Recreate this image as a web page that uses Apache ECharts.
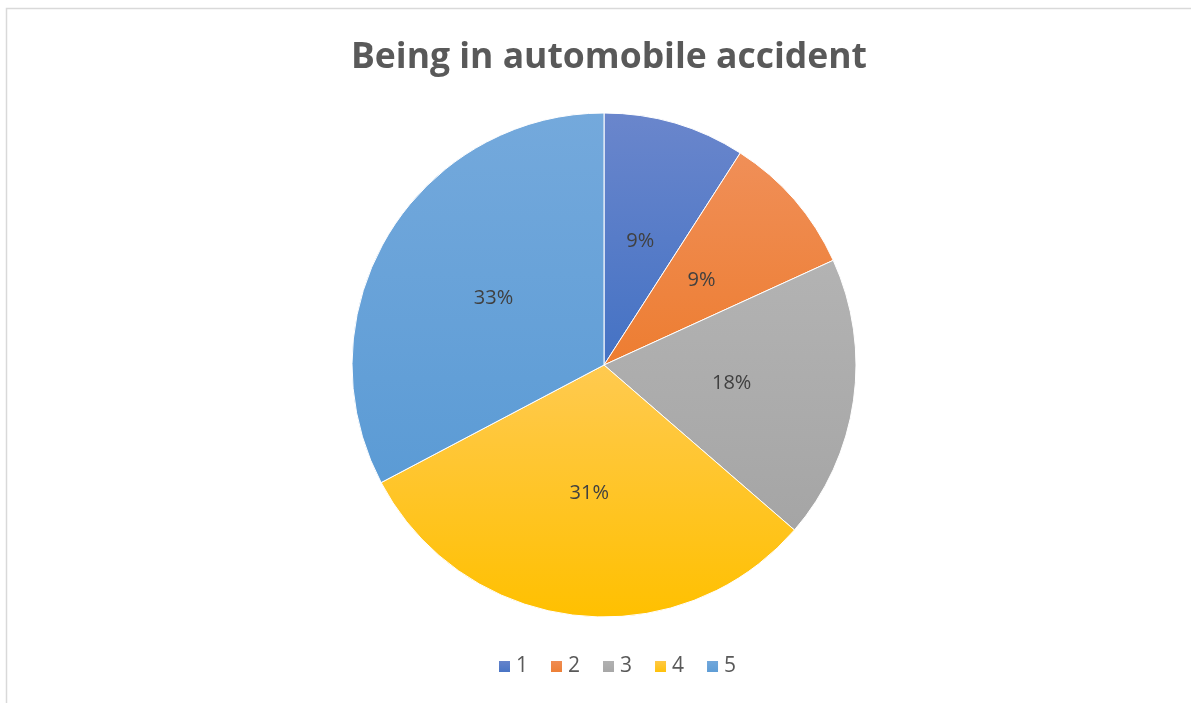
<!DOCTYPE html>
<html><head><meta charset="utf-8">
<script src="https://cdn.jsdelivr.net/npm/echarts@6/dist/echarts.min.js"></script>
<style>html,body{margin:0;padding:0;background:#fff;}#c{width:1191px;height:703px;}</style>
</head><body><div id="c"></div>
<script>
const categories = ['1', '2', '3', '4', '5'];
const values = [5, 5, 10, 17, 18];
const baseColors = ['#4472C4', '#ED7D31', '#A5A5A5', '#FFC000', '#5B9BD5'];
const topColors = ['#6a86cc', '#f08f58', '#b3b3b3', '#ffca50', '#74a9dc'];
const title = 'Being in automobile accident';

const chart = echarts.init(document.getElementById('c'));
const grad = (i) => new echarts.graphic.LinearGradient(0, 0, 0, 1, [
  {offset: 0, color: topColors[i]}, {offset: 1, color: baseColors[i]}
]);
chart.setOption({
  animation: false,
  backgroundColor: '#fff',
  graphic: [{
    type: 'rect', shape: {x: 6.5, y: 8.5, width: 1200, height: 710},
    style: {fill: 'none', stroke: '#d9d9d9', lineWidth: 1.5}, silent: true
  }],
  title: {
    text: title, left: 346, top: 35,
    textStyle: {fontFamily: 'Open Sans', fontWeight: 'bold', fontSize: 35.5, color: '#595959'}
  },
  legend: {
    top: 651, left: 492, itemWidth: 13, itemHeight: 13, itemGap: 21,
    icon: 'rect',
    textStyle: {fontFamily: 'Open Sans', fontSize: 21, color: '#595959'},
    data: categories
  },
  series: [{
    type: 'pie', center: [604, 365], radius: 252, startAngle: 90, clockwise: true,
    data: categories.map((c, i) => ({name: c, value: values[i], itemStyle: {color: grad(i)}})),
    itemStyle: {borderColor: '#fff', borderWidth: 1},
    label: {
      position: 'inside', formatter: (p) => Math.round(p.percent) + '%',
      fontFamily: 'Open Sans', fontSize: 20, color: '#404040'
    },
    labelLine: {show: false},
    emphasis: {disabled: true}
  }]
});
</script></body></html>
